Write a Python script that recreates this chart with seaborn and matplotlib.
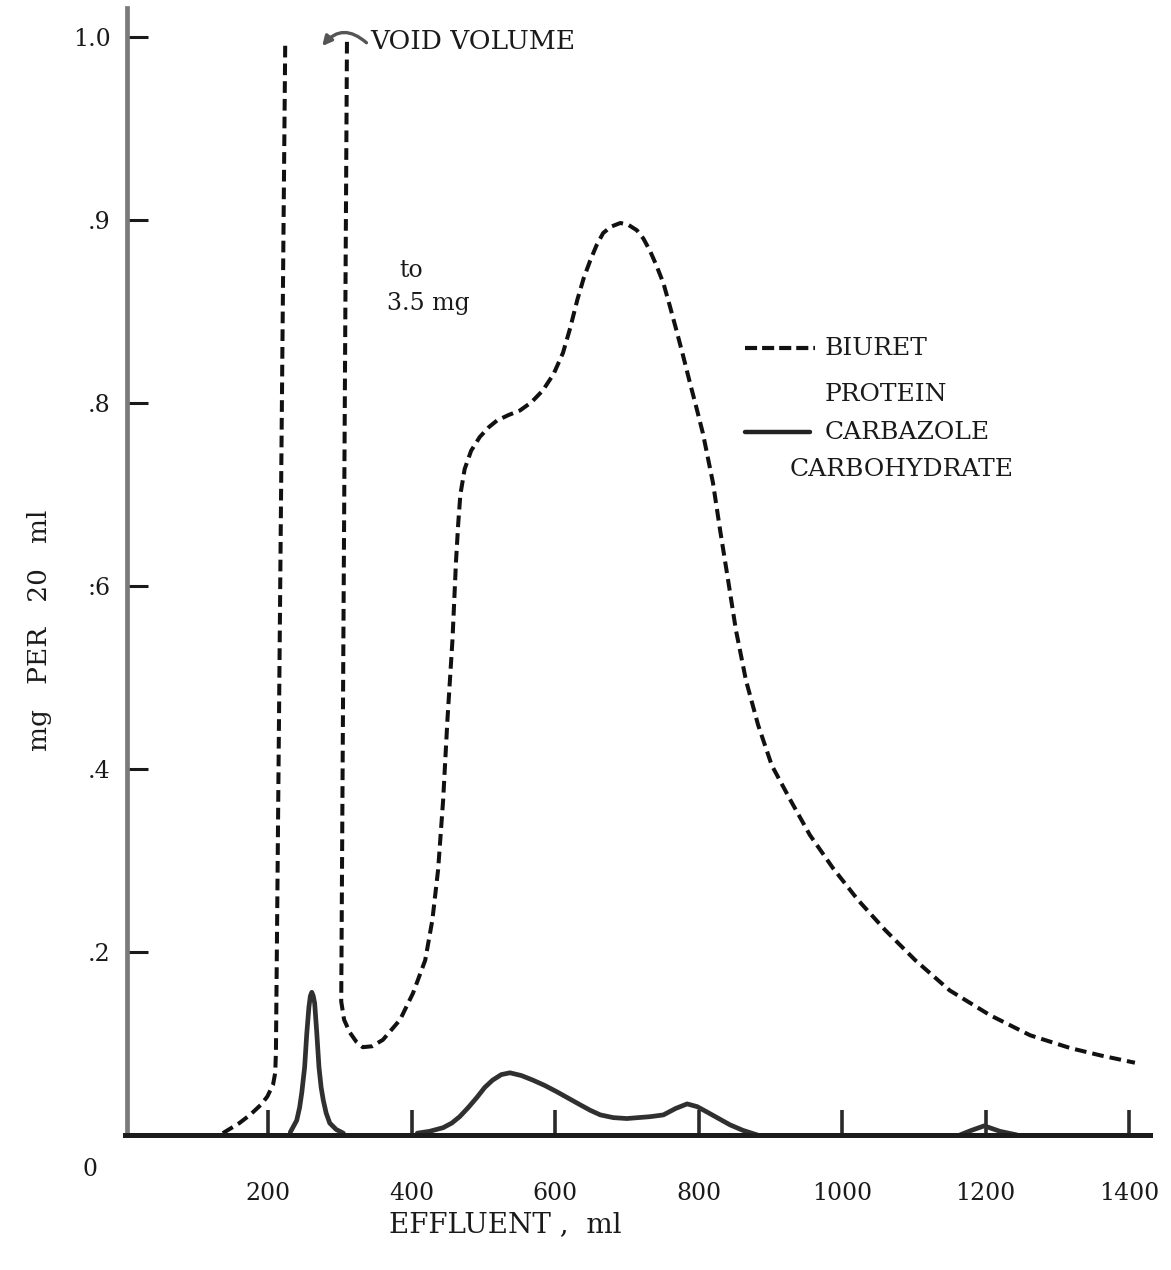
import numpy as np
import pandas as pd
import matplotlib
matplotlib.use("Agg")
import matplotlib.pyplot as plt
import seaborn as sns

# ---------------- data ----------------
# Biuret protein (dashed); y in chart-position units (tick positions 0.2 .. 1.2)
biuret_rise_ml = [137, 160, 175, 190, 199, 207, 210, 211, 224]
biuret_rise_val = [0.002, 0.013, 0.022, 0.033, 0.042, 0.055, 0.068, 0.090, 1.197]

biuret_main_ml = [310, 302, 306, 314, 323, 332, 345, 360, 384, 402, 419, 429,
                  437, 444, 450, 457, 462, 465, 468, 474, 483, 495, 508, 519,
                  535, 551, 567, 583, 598, 611, 621, 631, 640, 649, 658, 667,
                  678, 691, 702, 714, 723, 732, 741, 751, 760, 770, 779, 788,
                  797, 806, 813, 820, 830, 841, 852, 866, 883, 902, 928, 955,
                  987, 1022, 1060, 1102, 1150, 1206, 1262, 1318, 1360, 1408]
biuret_main_val = [1.195, 0.146, 0.126, 0.112, 0.102, 0.096, 0.097, 0.104,
                   0.126, 0.155, 0.191, 0.235, 0.290, 0.366, 0.454, 0.541,
                   0.628, 0.668, 0.700, 0.728, 0.748, 0.763, 0.774, 0.781,
                   0.787, 0.792, 0.801, 0.814, 0.832, 0.855, 0.882, 0.913,
                   0.937, 0.956, 0.973, 0.986, 0.993, 0.997, 0.995, 0.989,
                   0.980, 0.967, 0.951, 0.931, 0.906, 0.877, 0.850, 0.822,
                   0.795, 0.767, 0.740, 0.713, 0.661, 0.607, 0.552, 0.497,
                   0.448, 0.404, 0.366, 0.328, 0.292, 0.257, 0.224, 0.191,
                   0.158, 0.131, 0.109, 0.095, 0.087, 0.079]

# Carbazole carbohydrate (solid)
carb_peak1_ml = [231, 240, 244, 247, 251, 254, 257, 259, 261, 263, 265, 268,
                 271, 274, 277, 281, 286, 295, 305]
carb_peak1_val = [0.003, 0.016, 0.030, 0.046, 0.074, 0.111, 0.140, 0.152,
                  0.156, 0.152, 0.144, 0.111, 0.074, 0.052, 0.038, 0.024,
                  0.013, 0.006, 0.002]
carb_peak2_ml = [408, 425, 444, 456, 467, 479, 491, 502, 513, 525, 537, 553,
                 569, 586, 603, 619, 635, 649, 663, 681, 700, 716, 732, 742,
                 751, 768, 784, 798, 812, 828, 844, 862, 882]
carb_peak2_val = [0.002, 0.004, 0.008, 0.013, 0.020, 0.030, 0.041, 0.052,
                  0.060, 0.066, 0.068, 0.065, 0.060, 0.054, 0.047, 0.040,
                  0.033, 0.027, 0.022, 0.019, 0.018, 0.019, 0.020, 0.021,
                  0.022, 0.029, 0.034, 0.031, 0.025, 0.018, 0.011, 0.005,
                  0.000]
carb_peak3_ml = [1164, 1180, 1198, 1220, 1244]
carb_peak3_val = [0.000, 0.005, 0.010, 0.004, 0.000]

x_ticks = [200, 400, 600, 800, 1000, 1200, 1400]
x_tick_labels = ["200", "400", "600", "800", "1000", "1200", "1400"]
y_ticks = [0.2, 0.4, 0.6, 0.8, 1.0, 1.2]
y_tick_labels = [".2", ".4", ":6", ".8", ".9", "1.0"]

# ---------------- build frames ----------------
biuret = pd.concat([
    pd.DataFrame({"ml": biuret_rise_ml, "val": biuret_rise_val, "seg": "a"}),
    pd.DataFrame({"ml": biuret_main_ml, "val": biuret_main_val, "seg": "b"}),
], ignore_index=True)
carb = pd.concat([
    pd.DataFrame({"ml": carb_peak1_ml, "val": carb_peak1_val, "seg": "a"}),
    pd.DataFrame({"ml": carb_peak2_ml, "val": carb_peak2_val, "seg": "b"}),
    pd.DataFrame({"ml": carb_peak3_ml, "val": carb_peak3_val, "seg": "c"}),
], ignore_index=True)

# ---------------- figure ----------------
sns.set_style("white")
plt.rcParams["font.family"] = ["DejaVu Serif", "DejaVu Sans"]

W, H = 1171, 1270
fig = plt.figure(figsize=(W / 100, H / 100), dpi=100)
ax = fig.add_axes([124.5 / W, 135 / H, 1025.5 / W, 1127 / H])

sns.lineplot(data=carb, x="ml", y="val", units="seg", estimator=None,
             sort=False, color="#303030", lw=3.4, ax=ax)
sns.lineplot(data=biuret, x="ml", y="val", units="seg", estimator=None,
             sort=False, color="#111111", lw=2.9,
             linestyle=(0, (2.9, 1.5)), ax=ax)

ax.set_xlim(0, 1429)
ax.set_ylim(0, 1.232)
ax.set_xticks(x_ticks)
ax.set_xticklabels(x_tick_labels)
ax.set_yticks(y_ticks)
ax.set_yticklabels(y_tick_labels)
ax.set_xlabel("")
ax.set_ylabel("")

sns.despine(ax=ax, top=True, right=True)
ax.spines["left"].set_color("#7a7a7a")
ax.spines["left"].set_linewidth(3.4)
ax.spines["bottom"].set_color("#1c1c1c")
ax.spines["bottom"].set_linewidth(3.6)
ax.spines["left"].set_position(("data", 4))

ax.tick_params(axis="y", left=True, direction="in", length=15, width=2.2,
               color="#1a1a1a", pad=12, labelsize=17, labelcolor="#1a1a1a")
ax.tick_params(axis="x", bottom=True, direction="in", length=18, width=2.6,
               color="#2a2a2a", pad=34, labelsize=17, labelcolor="#1a1a1a")

# origin label
ax.text(-48, -0.025, "0", fontsize=17, ha="center", va="top", color="#1a1a1a")

# axis titles
fig.text(505 / W, 1 - 1225 / H, "EFFLUENT ,  ml", fontsize=20,
         ha="center", va="center", color="#1a1a1a")
fig.text(40 / W, 1 - 630 / H, "mg   PER   20   ml", fontsize=19, rotation=90,
         ha="center", va="center", color="#1a1a1a")

# annotations
ax.text(342, 1.195, "VOID VOLUME", fontsize=19, ha="left", va="center",
        color="#1a1a1a")
ax.annotate("", xy=(273, 1.188), xytext=(340, 1.192),
            arrowprops=dict(arrowstyle="-|>", color="#555555", lw=2.4,
                            mutation_scale=14,
                            connectionstyle="arc3,rad=0.55"))
ax.text(400, 0.945, "to", fontsize=17, ha="center", va="center",
        color="#1a1a1a")
ax.text(366, 0.909, "3.5 mg", fontsize=17, ha="left", va="center",
        color="#1a1a1a")

# key
ax.plot([865, 962], [0.860, 0.860], color="#111111", lw=3.0,
        linestyle=(0, (2.9, 1.2)))
ax.text(976, 0.860, "BIURET", fontsize=18, ha="left", va="center",
        color="#1a1a1a")
ax.text(976, 0.809, "PROTEIN", fontsize=18, ha="left", va="center",
        color="#1a1a1a")
ax.plot([865, 955], [0.768, 0.768], color="#222222", lw=3.2)
ax.text(976, 0.768, "CARBAZOLE", fontsize=18, ha="left", va="center",
        color="#1a1a1a")
ax.text(927, 0.727, "CARBOHYDRATE", fontsize=18, ha="left", va="center",
        color="#1a1a1a")

fig.savefig("out.png", dpi=100, facecolor="white")
